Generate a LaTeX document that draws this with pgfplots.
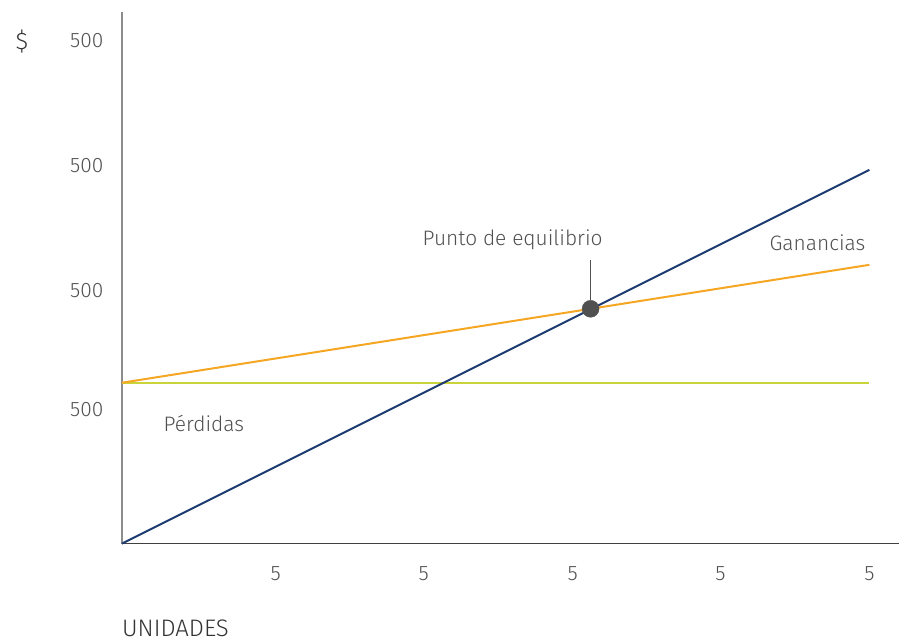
\documentclass[border=0pt]{standalone}
\usepackage{pgfplots}
\pgfplotsset{compat=1.18}
\usepackage{fontspec}
\setmainfont{Fira Sans Light}
\definecolor{cblue}{HTML}{1F3D73}
\definecolor{corange}{HTML}{F5A623}
\definecolor{cgreen}{HTML}{C9D43A}
\definecolor{ctext}{HTML}{505050}
\begin{document}
\begin{tikzpicture}
\begin{axis}[
  x=1bp, y=1bp,
  xmin=0, xmax=778, ymin=0, ymax=532,
  axis lines=left,
  axis line style={-},
  x axis line style={draw=black!75, line width=1.2bp},
  y axis line style={draw=black!45, line width=1.6bp},
  xtick={154,302,451,599,748},
  xticklabels={5,5,5,5,5},
  ytick={134,253,378,503},
  yticklabels={500,500,500,500},
  major tick length=0pt,
  tick label style={font=\fontsize{21}{24}\selectfont, text=ctext},
  xticklabel style={yshift=-19bp},
  yticklabel style={xshift=-15bp},
  /pgf/number format/assume math mode=true,
  clip=false,
]
\path (axis cs:-122,-98) rectangle (axis cs:778,544);
\addplot[cgreen, line width=2bp] coordinates {(0,161) (748,161)};
\addplot[corange, line width=2bp] coordinates {(0,161) (748,279)};
\addplot[cblue, line width=2bp] coordinates {(0,0) (748,374)};
\addplot[ctext, line width=1.2bp] coordinates {(469,284) (469,244)};
\addplot[only marks, mark=*, mark size=8.5bp, mark options={fill=ctext, draw=ctext}] coordinates {(469,235)};
\node[text=ctext, font=\fontsize{21}{24}\selectfont] at (axis cs:391,304) {Punto de equilibrio};
\node[text=ctext, font=\fontsize{21}{24}\selectfont] at (axis cs:696,301) {Ganancias};
\node[text=ctext, font=\fontsize{21}{24}\selectfont] at (axis cs:82,120) {Pérdidas};
\node[text=black!80, font=\fontsize{24}{28}\selectfont] at (axis cs:-100,502) {\$};
\node[text=black!80, font=\fontsize{24}{28}\selectfont, anchor=west, inner sep=0pt] at (axis cs:0,-85) {UNIDADES};
\end{axis}
\end{tikzpicture}
\end{document}
